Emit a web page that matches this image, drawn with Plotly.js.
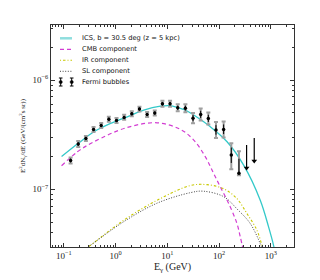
<!DOCTYPE html>
<html><head><meta charset="utf-8">
<script src="https://cdn.plot.ly/plotly-3.0.1.min.js"></script>
<style>html,body{margin:0;padding:0;background:#fff}#chart{width:320px;height:280px}</style>
</head><body><div id="chart"></div>
<script>
// ICS total model
const icsE = [0.090, 0.195, 0.380, 0.80, 1.68, 3.50, 7.36, 11.5, 15.5, 22.3, 32.4, 67.9, 143, 299, 627, 908, 1133, 1280];
const icsF = [1.99e-7, 2.66e-7, 3.36e-7, 4.01e-7, 4.61e-7, 5.31e-7, 5.77e-7, 5.83e-7, 5.62e-7, 5.31e-7, 4.78e-7, 3.73e-7, 2.72e-7, 1.66e-7, 7.92e-8, 4.51e-8, 3.06e-8, 2.3e-8];
// CMB component
const cmbE = [0.090, 0.182, 0.380, 1.68, 6.36, 17.9, 32.4, 54.5, 78.8, 106, 165, 222, 258, 295];
const cmbF = [1.64e-7, 2.20e-7, 2.72e-7, 3.68e-7, 4.06e-7, 3.53e-7, 2.82e-7, 1.98e-7, 1.39e-7, 1.05e-7, 6.88e-8, 4.84e-8, 3.65e-8, 2.75e-8];
// IR component
const irE = [0.274, 0.327, 1.44, 6.36, 27.9, 58.6, 123, 222, 347, 542, 677, 716];
const irF = [2.88e-8, 3.06e-8, 5.20e-8, 7.92e-8, 1.08e-7, 1.10e-7, 1.01e-7, 8.18e-8, 5.98e-8, 4.20e-8, 3.06e-8, 2.85e-8];
// SL component
const slE = [0.274, 0.327, 1.44, 6.36, 27.9, 49.0, 123, 225, 402, 627, 680];
const slF = [2.88e-8, 3.06e-8, 5.04e-8, 7.45e-8, 9.29e-8, 9.59e-8, 8.54e-8, 6.56e-8, 4.84e-8, 3.17e-8, 2.85e-8];
// Fermi bubbles data points
const fbE = [0.1346, 0.1892, 0.2661, 0.3741, 0.5260, 0.7396, 1.040, 1.462, 2.056, 2.891, 4.064, 5.715, 8.035, 11.30, 15.89, 22.34, 31.41, 44.16, 62.09, 87.30, 122.7, 172.6, 242.7];
const fbF = [1.83e-7, 2.59e-7, 2.92e-7, 3.53e-7, 3.84e-7, 4.38e-7, 4.26e-7, 4.55e-7, 4.91e-7, 5.42e-7, 4.84e-7, 4.98e-7, 6.06e-7, 6.06e-7, 5.57e-7, 5.53e-7, 4.48e-7, 4.84e-7, 4.45e-7, 3.48e-7, 3.53e-7, 2.06e-7, 1.40e-7];
const fbSysUp = [0.12e-7, 0.17e-7, 0.16e-7, 0.19e-7, 0.21e-7, 0.24e-7, 0.23e-7, 0.25e-7, 0.27e-7, 0.29e-7, 0.26e-7, 0.27e-7, 0.40e-7, 0.40e-7, 0.43e-7, 0.49e-7, 0.50e-7, 0.65e-7, 0.60e-7, 0.64e-7, 0.65e-7, 0.58e-7, 0.83e-7];
const fbSysDn = [0.11e-7, 0.16e-7, 0.15e-7, 0.18e-7, 0.20e-7, 0.22e-7, 0.22e-7, 0.23e-7, 0.25e-7, 0.28e-7, 0.25e-7, 0.25e-7, 0.37e-7, 0.37e-7, 0.40e-7, 0.45e-7, 0.45e-7, 0.57e-7, 0.53e-7, 0.54e-7, 0.55e-7, 0.54e-7, 0.06e-7];
const fbStatUp = [0.08e-7, 0.10e-7, 0.10e-7, 0.11e-7, 0.12e-7, 0.14e-7, 0.13e-7, 0.14e-7, 0.16e-7, 0.17e-7, 0.15e-7, 0.16e-7, 0.24e-7, 0.24e-7, 0.26e-7, 0.30e-7, 0.30e-7, 0.39e-7, 0.36e-7, 0.38e-7, 0.39e-7, 0.35e-7, 0.50e-7];
const fbStatDn = [0.07e-7, 0.10e-7, 0.09e-7, 0.11e-7, 0.12e-7, 0.13e-7, 0.13e-7, 0.14e-7, 0.15e-7, 0.17e-7, 0.15e-7, 0.15e-7, 0.22e-7, 0.22e-7, 0.24e-7, 0.27e-7, 0.27e-7, 0.34e-7, 0.32e-7, 0.32e-7, 0.33e-7, 0.32e-7, 0.04e-7];
// Fermi bubbles upper limits
const ulE = [341.2, 479.7];
const ulF = [1.56e-7, 1.81e-7];
const ulUp = [0.98e-7, 1.13e-7];
const legendLabels = ['ICS, b = 30.5 deg (z = 5 kpc)', 'CMB component', 'IR component', 'SL component', 'Fermi bubbles'];
// tick labels
const xTickVals = [0.1, 1, 10, 100, 1000];
const xTickText = ['10<sup>−1</sup>', '10<sup>0</sup>', '10<sup>1</sup>', '10<sup>2</sup>', '10<sup>3</sup>'];
const yTickVals = [1e-7, 1e-6];
const yTickText = ['10<sup>−7</sup>', '10<sup>−6</sup>'];

const cyan = '#33c9c9', magenta = '#d23cd2', yellow = '#c8c800', gray = '#444444';
const magDash = '4px,3px', yelDash = '1px,2px,2.5px,2px', slDash = '1px,1.6px';

const traces = [
  {x: icsE, y: icsF, mode: 'lines', line: {color: cyan, width: 1.3, shape: 'spline'}, name: legendLabels[0]},
  {x: cmbE, y: cmbF, mode: 'lines', line: {color: magenta, width: 1.2, dash: magDash, shape: 'spline'}, name: legendLabels[1]},
  {x: irE, y: irF, mode: 'lines', line: {color: yellow, width: 1.1, dash: yelDash, shape: 'spline'}, name: legendLabels[2]},
  {x: slE, y: slF, mode: 'lines', line: {color: gray, width: 1, dash: slDash, shape: 'spline'}, name: legendLabels[3]},
  {x: fbE, y: fbF, mode: 'markers', marker: {size: 0.1, color: 'rgba(0,0,0,0)'},
   error_y: {type: 'data', symmetric: false, array: fbSysUp, arrayminus: fbSysDn, color: '#a0a0a0', thickness: 2, width: 2}, name: 'sys'},
  {x: fbE, y: fbF, mode: 'markers', marker: {size: 3.5, color: '#000'},
   error_y: {type: 'data', symmetric: false, array: fbStatUp, arrayminus: fbStatDn, color: '#000', thickness: 1, width: 0}, name: legendLabels[4]},
  {x: ulE, y: ulF, mode: 'markers', marker: {size: 5, color: '#000', symbol: 'triangle-down'},
   error_y: {type: 'data', symmetric: false, array: ulUp, arrayminus: [0, 0], color: '#000', thickness: 1.2, width: 0}, name: 'UL'}
];

const tickFont = {family: 'Liberation Serif, serif', size: 9, color: '#222'};
const axisCommon = {
  type: 'log', showline: true, linecolor: '#333', linewidth: 1, mirror: 'allticks',
  ticks: 'inside', ticklen: 4, tickcolor: '#333', tickmode: 'array',
  showgrid: false, zeroline: false, tickfont: tickFont,
  minor: {ticks: 'inside', ticklen: 2, tickcolor: '#333', dtick: 'D1', showgrid: false}
};

// hand-drawn legend (pixel offsets from the plot's top-left corner)
const rows = [13.3, 24.3, 35.3, 46.3, 57];
const shapes = [];
function hline(r, color, width, dash) {
  shapes.push({type: 'line', xref: 'paper', yref: 'paper', xsizemode: 'pixel', ysizemode: 'pixel',
    xanchor: 0, yanchor: 1, x0: 9, x1: 21, y0: -rows[r], y1: -rows[r], line: {color: color, width: width, dash: dash}});
}
hline(0, '#8fdede', 2.5, 'solid');
hline(1, magenta, 1.2, magDash);
hline(2, yellow, 1.1, yelDash);
hline(3, gray, 1, slDash);
[9.7, 20.7].forEach(function (px) {
  shapes.push({type: 'line', xref: 'paper', yref: 'paper', xsizemode: 'pixel', ysizemode: 'pixel',
    xanchor: 0, yanchor: 1, x0: px, x1: px, y0: -rows[4] + 4, y1: -rows[4] - 4, line: {color: '#000', width: 1}});
  [4, -4].forEach(function (d) {
    shapes.push({type: 'line', xref: 'paper', yref: 'paper', xsizemode: 'pixel', ysizemode: 'pixel',
      xanchor: 0, yanchor: 1, x0: px - 1.8, x1: px + 1.8, y0: -rows[4] + d, y1: -rows[4] + d, line: {color: '#000', width: 1}});
  });
  shapes.push({type: 'circle', xref: 'paper', yref: 'paper', xsizemode: 'pixel', ysizemode: 'pixel',
    xanchor: 0, yanchor: 1, x0: px - 1.6, x1: px + 1.6, y0: -rows[4] - 1.6, y1: -rows[4] + 1.6,
    fillcolor: '#000', line: {color: '#000', width: 0.5}});
});
const annotations = legendLabels.map(function (t, i) {
  return {text: t, xref: 'paper', yref: 'paper', x: 0, y: 1, xshift: 29, yshift: -rows[i],
    xanchor: 'left', yanchor: 'middle', showarrow: false,
    font: {family: 'DejaVu Sans, sans-serif', size: 6.7, color: '#111'}};
});

const layout = {
  width: 320, height: 280,
  margin: {l: 51, r: 26, t: 25, b: 33},
  paper_bgcolor: '#fff', plot_bgcolor: '#fff',
  showlegend: false,
  xaxis: Object.assign({}, axisCommon, {range: [-1.25, 3.45], tickvals: xTickVals, ticktext: xTickText,
    title: {text: 'E<sub>γ</sub> (GeV)', font: {family: 'Liberation Serif, serif', size: 10, color: '#222'}, standoff: 2}}),
  yaxis: Object.assign({}, axisCommon, {range: [-7.53, -5.495], tickvals: yTickVals, ticktext: yTickText,
    title: {text: 'E<sup>2</sup>dN<sub>γ</sub>/dE (GeV/(cm<sup>2</sup>s sr))', font: {family: 'Liberation Serif, serif', size: 7, color: '#222'}, standoff: 6}}),
  shapes: shapes,
  annotations: annotations
};

Plotly.newPlot('chart', traces, layout, {displayModeBar: false, staticPlot: true});
</script></body></html>
